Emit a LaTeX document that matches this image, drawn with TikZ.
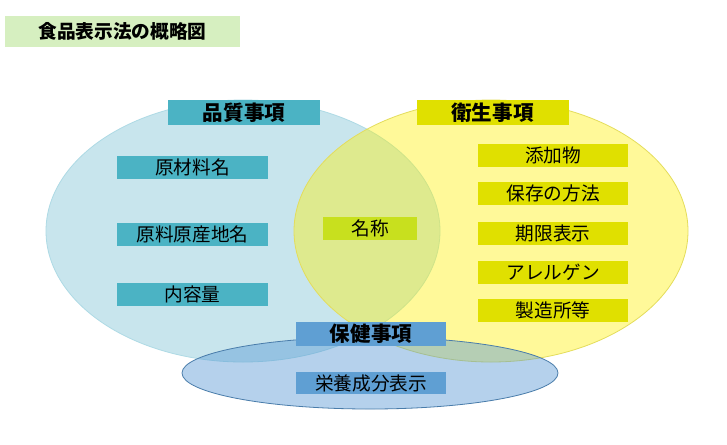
\documentclass[tikz,border=0pt]{standalone}
\usepackage{fontspec}
\setmainfont{Noto Sans CJK JP}
\definecolor{titlegreen}{HTML}{D6EFC0}
\definecolor{tealbox}{HTML}{4BB3C4}
\definecolor{yelbox}{HTML}{E0E000}
\definecolor{limebox}{HTML}{C8E01E}
\definecolor{bluebox}{HTML}{5F9FD3}
\definecolor{cyanfill}{HTML}{4BACC6}
\definecolor{bluefill}{HTML}{5B9BD5}
\begin{document}
\begin{tikzpicture}[x=0.75pt,y=-0.75pt,
  itembox/.style={minimum width=113pt,minimum height=17.25pt,inner sep=0pt,font=\fontsize{14pt}{15pt}\selectfont},
  headbox/.style={minimum width=114pt,minimum height=18.75pt,inner sep=0pt,font=\fontsize{15.4pt}{17pt}\selectfont\bfseries}]
\useasboundingbox (0,0) rectangle (727,444);
\fill[white] (0,0) rectangle (727,444);
% title
\node[fill=titlegreen,minimum width=176pt,minimum height=23.25pt,inner sep=0pt,
  font=\fontsize{14pt}{16pt}\selectfont\bfseries] (title) at (122.5,31.5) {食品表示法の概略図};
% ellipses
\fill[cyanfill,opacity=0.3] (243,231) ellipse [x radius=197,y radius=131];
\draw[cyanfill!45,line width=0.6pt] (243,231) ellipse [x radius=197,y radius=131];
\fill[yellow,opacity=0.4] (491,231) ellipse [x radius=197,y radius=131];
\draw[yellow!60!olive!60,line width=0.6pt] (491,231) ellipse [x radius=197,y radius=131];
\fill[bluefill,opacity=0.45] (370,373) ellipse [x radius=188,y radius=36];
\draw[bluefill!80!black,line width=0.6pt] (370,373) ellipse [x radius=188,y radius=36];
% headers
\node[headbox,fill=tealbox] (hinshitsu) at (244,112.5) {品質事項};
\node[headbox,fill=yelbox] (eisei) at (492.5,112.5) {衛生事項};
\node[headbox,fill=bluebox,minimum width=112.5pt,minimum height=18pt] (hoken) at (371,334) {保健事項};
% left items
\node[itembox,fill=tealbox] (genzai) at (192.5,167) {原材料名};
\node[itembox,fill=tealbox] (gensanchi) at (192.5,234) {原料原産地名};
\node[itembox,fill=tealbox] (naiyo) at (192.5,294) {内容量};
% center
\node[itembox,fill=limebox,minimum width=70.5pt] (meisho) at (370,228.5) {名称};
% right items
\node[itembox,fill=yelbox] (tenka) at (553,155) {添加物};
\node[itembox,fill=yelbox] (hozon) at (553,193) {保存の方法};
\node[itembox,fill=yelbox] (kigen) at (553,233) {期限表示};
\node[itembox,fill=yelbox] (allergen) at (553,272) {アレルゲン};
\node[itembox,fill=yelbox] (seizo) at (553,310) {製造所等};
% bottom
\node[itembox,fill=bluebox,minimum width=112.5pt,minimum height=16.5pt] (eiyo) at (371,383) {栄養成分表示};
\end{tikzpicture}
\end{document}
